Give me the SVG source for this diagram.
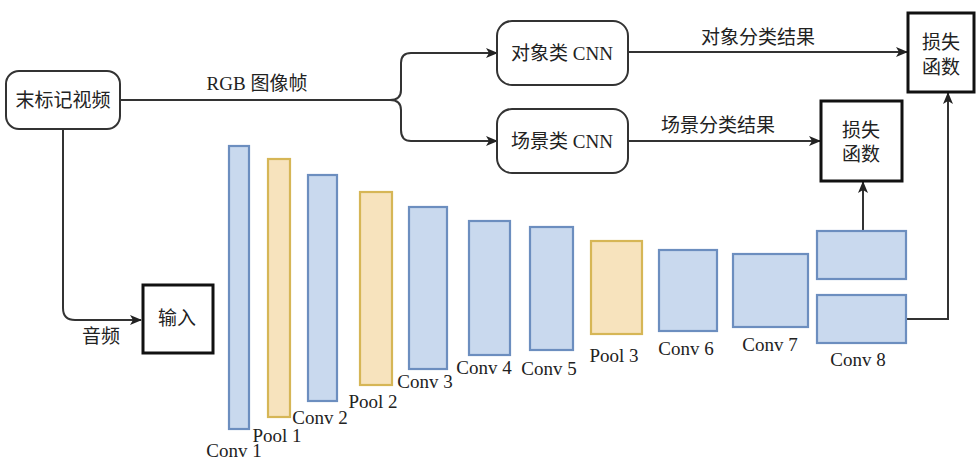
<svg xmlns="http://www.w3.org/2000/svg" width="979" height="463" viewBox="0 0 979 463">
<defs>
<style>
.t{font-family:"Liberation Serif","Noto Sans CJK SC",serif;font-size:19px;fill:#222;}
.c{text-anchor:middle;dominant-baseline:central;}
.rn{fill:#fff;stroke:#333;stroke-width:2;}
.bx{fill:#fff;stroke:#111;stroke-width:3;}
.cv{fill:#c9d9ee;stroke:#6c8ebf;stroke-width:2.2;}
.pl{fill:#f7e3bd;stroke:#d6b656;stroke-width:2.2;}
.ln{fill:none;stroke:#333;stroke-width:2;}
</style>
<marker id="ar" viewBox="0 0 12 10" refX="11" refY="5" markerWidth="12" markerHeight="10" markerUnits="userSpaceOnUse" orient="auto">
<path d="M0,0 L12,5 L0,10 L3,5 z" fill="#222"/>
</marker>
</defs>
<rect width="979" height="463" fill="#fff"/>
<g id="connectors">
<path class="ln" d="M120,100 H390 Q401,100 401,90 V63 Q401,53 411,53 H497" marker-end="url(#ar)"/>
<path class="ln" d="M390,100 Q401,100 401,110 V130 Q401,141 411,141 H497" marker-end="url(#ar)"/>
<path class="ln" d="M628,52 H907" marker-end="url(#ar)"/>
<path class="ln" d="M628,141 H820" marker-end="url(#ar)"/>
<path class="ln" d="M63,129 V308 Q63,320 75,320 H141" marker-end="url(#ar)"/>
<path class="ln" d="M863,231 V182" marker-end="url(#ar)"/>
<path class="ln" d="M906,319 H948 V93" marker-end="url(#ar)"/>
<text class="t c" x="257" y="83">RGB 图像帧</text>
<text class="t c" x="758" y="37">对象分类结果</text>
<text class="t c" x="718" y="125">场景分类结果</text>
<text class="t c" x="101" y="336">音频</text>
</g>
<g id="video"><rect class="rn" x="6" y="71" width="114" height="58" rx="13"/><text class="t c" x="63" y="100">末标记视频</text></g>
<g id="objcnn"><rect class="rn" x="497" y="21" width="131" height="64" rx="15"/><text class="t c" x="562" y="53">对象类 CNN</text></g>
<g id="scenecnn"><rect class="rn" x="497" y="109" width="131" height="64" rx="15"/><text class="t c" x="562" y="141">场景类 CNN</text></g>
<g id="loss1"><rect class="bx" x="908" y="13" width="66" height="79"/><text class="t c" x="941" y="42">损失</text><text class="t c" x="941" y="67">函数</text></g>
<g id="loss2"><rect class="bx" x="821" y="101" width="81" height="80"/><text class="t c" x="861" y="130">损失</text><text class="t c" x="861" y="154">函数</text></g>
<g id="input"><rect class="bx" x="143" y="285" width="70" height="68"/><text class="t c" x="177" y="318">输入</text></g>
<g id="conv1"><rect class="cv" x="229" y="146" width="20" height="283"/><text class="t" x="234" y="457" text-anchor="middle">Conv 1</text></g>
<g id="pool1"><rect class="pl" x="268" y="159" width="22" height="258"/><text class="t" x="277" y="442" text-anchor="middle">Pool 1</text></g>
<g id="conv2"><rect class="cv" x="308" y="175" width="29" height="226"/><text class="t" x="320" y="424" text-anchor="middle">Conv 2</text></g>
<g id="pool2"><rect class="pl" x="360" y="192" width="32" height="193"/><text class="t" x="373" y="408" text-anchor="middle">Pool 2</text></g>
<g id="conv3"><rect class="cv" x="409" y="207" width="38" height="162"/><text class="t" x="425" y="388" text-anchor="middle">Conv 3</text></g>
<g id="conv4"><rect class="cv" x="469" y="221" width="41" height="134"/><text class="t" x="484" y="374" text-anchor="middle">Conv 4</text></g>
<g id="conv5"><rect class="cv" x="530" y="227" width="43" height="123"/><text class="t" x="549" y="375" text-anchor="middle">Conv 5</text></g>
<g id="pool3"><rect class="pl" x="591" y="241" width="51" height="93"/><text class="t" x="614" y="362" text-anchor="middle">Pool 3</text></g>
<g id="conv6"><rect class="cv" x="659" y="250" width="58" height="81"/><text class="t" x="686" y="355" text-anchor="middle">Conv 6</text></g>
<g id="conv7"><rect class="cv" x="733" y="254" width="75" height="73"/><text class="t" x="770" y="351" text-anchor="middle">Conv 7</text></g>
<g id="conv8"><rect class="cv" x="817" y="231" width="89" height="48"/><rect class="cv" x="817" y="295" width="89" height="48"/><text class="t" x="858" y="366" text-anchor="middle">Conv 8</text></g>
</svg>
